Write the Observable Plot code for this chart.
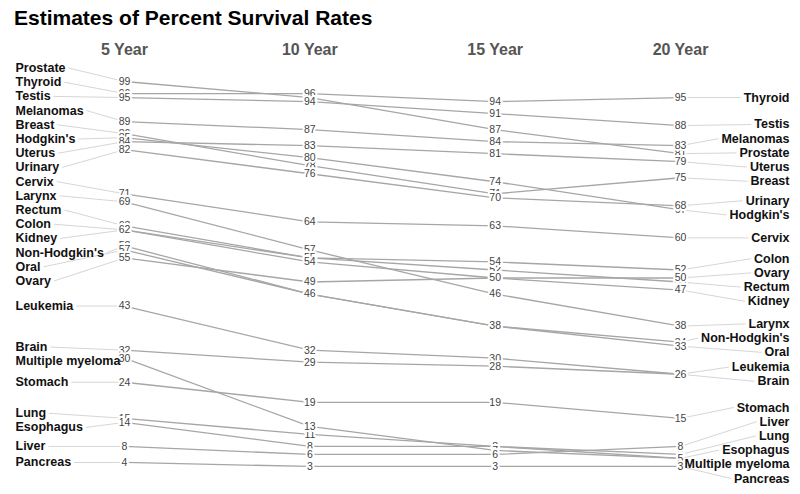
<!DOCTYPE html>
<html><head><meta charset="utf-8">
<script src="https://cdn.jsdelivr.net/npm/d3@7"></script>
<script src="https://cdn.jsdelivr.net/npm/@observablehq/plot@0.6"></script>
<style>
body{margin:0;background:#fff;font-family:"Liberation Sans",Arial,sans-serif}
#title{height:34px;box-sizing:border-box;padding:2px 0 0 14px;line-height:32px;font-size:21px;font-weight:bold;color:#000;white-space:nowrap}
</style></head><body>
<div id="title">Estimates of Percent Survival Rates</div>
<div id="chart"></div>
<script>
const cancers = ["Prostate","Thyroid","Testis","Melanomas","Breast","Hodgkin's","Uterus","Urinary","Cervix","Larynx","Rectum","Colon","Kidney","Non-Hodgkin's","Oral","Ovary","Leukemia","Brain","Stomach","Lung","Esophagus","Multiple myeloma","Liver","Pancreas"];
const years = [5, 10, 15, 20];
const yearLabels = ["5 Year", "10 Year", "15 Year", "20 Year"];
const year5  = [99,96,95,89,86,85,84,82,71,69,63,62,62,58,57,55,43,32,24,15,14,30,8,4];
const year10 = [95,96,94,87,78,80,83,76,64,57,55,55,54,46,46,49,32,29,19,11,8,13,6,3];
const year15 = [87,94,91,84,71,74,81,70,63,46,52,54,50,38,38,50,30,28,19,8,8,7,6,3];
const year20 = [81,95,88,83,75,67,79,68,60,38,49,52,47,34,33,50,26,26,15,6,5,5,8,3];

const W = 800, H = 460, mL = 124, mR = 120, mT = 43, mB = 16;
const series = [year5, year10, year15, year20];
const rows = cancers.flatMap((c, i) => series.map((arr, j) => ({cancer: c, year: years[j], value: arr[i]})));

const xs = Plot.scale({x: {type: "linear", domain: [5, 20], range: [mL, W - mR]}});
const pxPerUnit = (H - mB - mT) / 100;
const spacing = 14.2 / pxPerUnit;

function repel(vals, sp, lo) {
  const idx = d3.range(vals.length).sort((a, b) => vals[b] - vals[a] || a - b);
  const clusters = idx.map(i => ({members: [i]}));
  const place = cl => {
    const n = cl.members.length;
    const mean = d3.mean(cl.members, i => vals[i]);
    let top = mean + (n - 1) / 2 * sp;
    let bottom = top - (n - 1) * sp;
    if (bottom < lo) { top += lo - bottom; bottom = lo; }
    cl.top = top; cl.bottom = bottom;
  };
  clusters.forEach(place);
  let merged = true;
  while (merged) {
    merged = false;
    for (let k = 0; k < clusters.length - 1; k++) {
      const a = clusters[k], b = clusters[k + 1];
      if (a.bottom - b.top < sp - 1e-9) {
        a.members = a.members.concat(b.members);
        place(a);
        clusters.splice(k + 1, 1);
        merged = true;
        break;
      }
    }
  }
  const pos = new Array(vals.length);
  clusters.forEach(cl => cl.members.forEach((i, k) => pos[i] = cl.top - k * sp));
  return pos;
}

const ctx = document.createElement("canvas").getContext("2d");
ctx.font = "bold 12.5px 'Liberation Sans', Arial, sans-serif";
const tw = s => ctx.measureText(s).width;

const leftPos = repel(year5, spacing, 0);
const rightPos = repel(year20, spacing, 0);
const leftX = 15, rightX = 789;
const leftData = cancers.map((c, i) => ({cancer: c, v: year5[i], ly: leftPos[i], w: tw(c)}));
const rightData = cancers.map((c, i) => ({cancer: c, v: year20[i], ly: rightPos[i], w: tw(c)}));

const chart = Plot.plot({
  width: W, height: H,
  marginLeft: mL, marginRight: mR, marginTop: mT, marginBottom: mB,
  style: {fontFamily: "'Liberation Sans', Arial, sans-serif", background: "white"},
  x: {type: "linear", domain: [5, 20], axis: null},
  y: {domain: [0, 100], axis: null},
  marks: [
    Plot.text(years, {x: d => d, text: (d, i) => yearLabels[i], frameAnchor: "top", lineAnchor: "middle", dy: -28, fontSize: 16, fontWeight: "bold", fill: "#555"}),
    Plot.link(leftData, {x1: d => xs.invert(leftX + d.w + 3), y1: "ly", x2: 5, y2: "v", stroke: "#d6d6d6", strokeWidth: 1}),
    Plot.link(rightData, {x1: 20, y1: "v", x2: d => xs.invert(rightX - d.w - 3), y2: "ly", stroke: "#d6d6d6", strokeWidth: 1}),
    Plot.line(rows, {x: "year", y: "value", z: "cancer", stroke: "#a6a6a6", strokeWidth: 1.3}),
    Plot.text(rows, {x: "year", y: "value", text: d => String(d.value), fontSize: 10.5, fill: "#444", stroke: "white", strokeWidth: 4, paintOrder: "stroke"}),
    Plot.text(leftData, {frameAnchor: "left", lineAnchor: "middle", dx: leftX - mL, y: "ly", text: "cancer", textAnchor: "start", fontSize: 12.5, fontWeight: "bold", fill: "#111"}),
    Plot.text(rightData, {frameAnchor: "right", lineAnchor: "middle", dx: rightX - (W - mR), y: "ly", text: "cancer", textAnchor: "end", fontSize: 12.5, fontWeight: "bold", fill: "#111"})
  ]
});
document.getElementById("chart").appendChild(chart);
</script>
</body></html>
